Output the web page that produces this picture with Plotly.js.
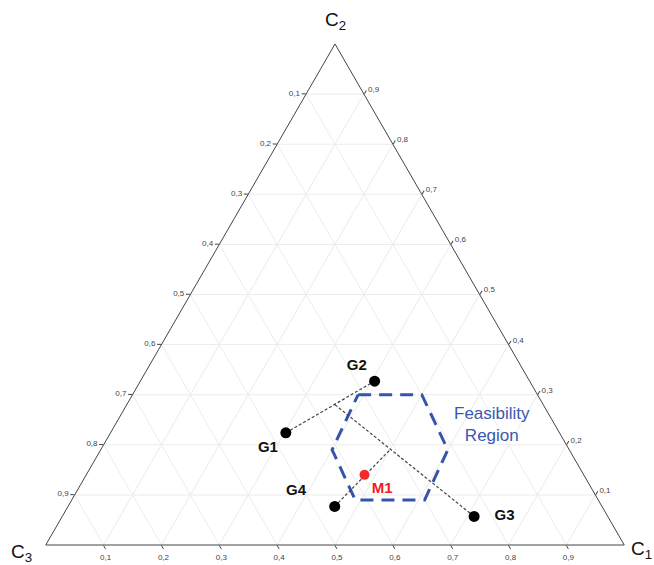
<!DOCTYPE html>
<html>
<head>
<meta charset="utf-8">
<script src="https://cdn.plot.ly/plotly-3.0.1.min.js"></script>
<style>
  html, body { margin: 0; padding: 0; background: #fff; }
  #chart { width: 654px; height: 565px; }
</style>
</head>
<body>
<div id="chart"></div>
<script>
// ---- Data (ternary fractions: C1, C2, C3) ----
const pointNames = ['G1', 'G2', 'G3', 'G4'];
const pointC1 = [0.303, 0.405, 0.712, 0.461];
const pointC2 = [0.224, 0.327, 0.057, 0.077];
const pointC3 = [0.473, 0.268, 0.231, 0.462];

const mixName = ['M1'];
const mixC1 = [0.481];
const mixC2 = [0.140];
const mixC3 = [0.379];

// construction (mixing) lines: G1-G2, P-G3, G4-Q
const lineG1G2 = { C1: [0.303, 0.405], C2: [0.224, 0.327], C3: [0.473, 0.268] };
const linePG3  = { C1: [0.360, 0.712], C2: [0.280, 0.057], C3: [0.360, 0.231] };
const lineG4Q  = { C1: [0.461, 0.500], C2: [0.077, 0.190], C3: [0.462, 0.310] };

// feasibility region (hexagon)
const hexC1 = [0.39, 0.50, 0.60, 0.61, 0.49, 0.40, 0.39];
const hexC2 = [0.30, 0.30, 0.19, 0.09, 0.09, 0.19, 0.30];
const hexC3 = [0.31, 0.20, 0.21, 0.30, 0.42, 0.41, 0.31];

// tick labels
const tickVals = [0.1, 0.2, 0.3, 0.4, 0.5, 0.6, 0.7, 0.8, 0.9];
const tickLabels = ['0,9', '0,8', '0,7', '0,6', '0,5', '0,4', '0,3', '0,2', '0,1'];

// vertex titles
const vertexTitles = { top: 'C<sub>2</sub>', left: 'C<sub>3</sub>', right: 'C<sub>1</sub>' };

const nb = '\u00a0';
const pointLabels = ['G1', 'G2', nb + nb + nb + 'G3', 'G4' + nb + nb + nb + nb + nb];
const pointLabelPos = ['bottom left', 'top left', 'middle right', 'top left'];

// ---- Traces (a = C2 top, b = C3 bottom-left, c = C1 bottom-right) ----
const FONT = 'Liberation Sans, Arial, sans-serif';
const dotLine = { color: '#444', width: 1.2, dash: '3px,2px' };
function seg(l) {
  return { type: 'scatterternary', mode: 'lines', a: l.C2, b: l.C3, c: l.C1,
           line: dotLine, hoverinfo: 'skip', showlegend: false };
}

const traces = [
  {
    type: 'scatterternary', mode: 'lines',
    a: hexC2, b: hexC3, c: hexC1,
    line: { color: '#3554ad', width: 3, dash: '13px,8px' },
    hoverinfo: 'skip', showlegend: false
  },
  seg(lineG1G2), seg(linePG3), seg(lineG4Q),
  {
    type: 'scatterternary', mode: 'markers+text',
    a: pointC2, b: pointC3, c: pointC1,
    text: pointLabels, textposition: pointLabelPos,
    textfont: { family: FONT, size: 15, color: '#111', weight: 'bold' },
    marker: { color: '#000', size: 11 },
    showlegend: false
  },
  {
    type: 'scatterternary', mode: 'markers+text',
    a: mixC2, b: mixC3, c: mixC1,
    text: mixName, textposition: 'bottom right',
    textfont: { family: FONT, size: 15, color: '#f02020', weight: 'bold' },
    marker: { color: '#f52a2a', size: 10 },
    showlegend: false
  }
];

function axis() {
  return {
    title: { text: '' },
    tickmode: 'array', tickvals: tickVals, ticktext: tickLabels,
    tickfont: { family: FONT, size: 8, color: '#444' },
    ticks: 'outside', ticklen: 4, tickcolor: '#444',
    linecolor: '#444', linewidth: 1,
    showgrid: true, gridcolor: '#ececec', gridwidth: 1,
    min: 0
  };
}

const titleFont = { family: FONT, size: 19, color: '#111' };

const layout = {
  width: 654, height: 565,
  margin: { l: 45, r: 29, t: 44, b: 20 },
  paper_bgcolor: '#fff',
  showlegend: false,
  ternary: {
    sum: 1,
    bgcolor: '#fff',
    domain: { x: [0, 1], y: [0, 1] },
    aaxis: axis(),
    baxis: axis(),
    caxis: axis()
  },
  annotations: [
    { xref: 'paper', yref: 'paper', x: 0.5, y: 1.045, xanchor: 'center', yanchor: 'middle',
      text: vertexTitles.top, showarrow: false, font: titleFont },
    { xref: 'paper', yref: 'paper', x: -0.04, y: -0.016, xanchor: 'center', yanchor: 'middle',
      text: vertexTitles.left, showarrow: false, font: titleFont },
    { xref: 'paper', yref: 'paper', x: 1.028, y: -0.01, xanchor: 'center', yanchor: 'middle',
      text: vertexTitles.right, showarrow: false, font: titleFont },
    { xref: 'paper', yref: 'paper', x: 0.771, y: 0.24, xanchor: 'center', yanchor: 'middle',
      text: 'Feasibility<br>Region', showarrow: false,
      font: { family: FONT, size: 17, color: '#3a58b0' }, align: 'center' }
  ]
};

Plotly.newPlot('chart', traces, layout, { displayModeBar: false, staticPlot: true });
</script>
</body>
</html>
